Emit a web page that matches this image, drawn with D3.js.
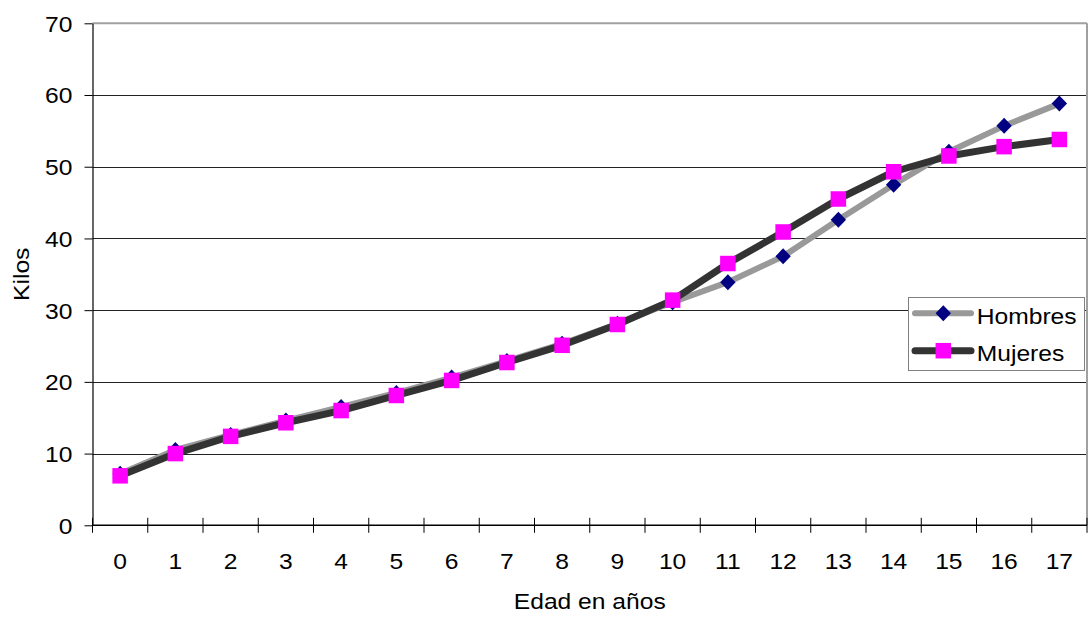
<!DOCTYPE html>
<html>
<head>
<meta charset="utf-8">
<script src="https://cdn.jsdelivr.net/npm/d3@7/dist/d3.min.js"></script>
<style>
  html, body { margin: 0; padding: 0; background: #fff; }
  svg { display: block; }
  text { font-family: "Liberation Sans", Arial, sans-serif; fill: #000; }
</style>
</head>
<body>
<svg id="chart" width="1088" height="617"></svg>
<script>
// ---- data ----
const ages = ["0","1","2","3","4","5","6","7","8","9","10","11","12","13","14","15","16","17"];
const hombres = [7.2, 10.5, 12.6, 14.6, 16.5, 18.45, 20.6, 22.9, 25.3, 28.1, 31.1, 33.9, 37.5, 42.6, 47.5, 52.1, 55.7, 58.8];
const mujeres = [6.9, 10.0, 12.4, 14.3, 16.0, 18.1, 20.2, 22.7, 25.1, 28.0, 31.4, 36.5, 40.9, 45.5, 49.3, 51.5, 52.8, 53.8];
const yTicks = [0, 10, 20, 30, 40, 50, 60, 70];
const seriesNames = ["Hombres", "Mujeres"];
const xTitle = "Edad en años";
const yTitle = "Kilos";

// ---- layout ----
const L = 92.5, R = 1087, T = 23.3, B = 525.3;
const FS = 22, SX = 1.12;

const svg = d3.select("#chart");
const x = d3.scaleBand().domain(ages).range([L, R]).padding(0);
const y = d3.scaleLinear().domain([0, 70]).range([B, T]);
const cx = d => x(d) + x.bandwidth() / 2;

// gridlines
svg.append("g").selectAll("line").data(yTicks.filter(v => v > 0 && v < 70)).join("line")
  .attr("x1", L).attr("x2", R).attr("y1", d => Math.round(y(d)) + 0.5).attr("y2", d => Math.round(y(d)) + 0.5)
  .attr("stroke", "#222").attr("stroke-width", 1);

// top / right border (gray)
svg.append("line").attr("x1", L).attr("x2", R).attr("y1", y(70)).attr("y2", y(70))
  .attr("stroke", "#a0a0a0").attr("stroke-width", 2);
svg.append("line").attr("x1", R).attr("x2", R).attr("y1", T).attr("y2", B)
  .attr("stroke", "#a0a0a0").attr("stroke-width", 2);

// y axis
const yAxis = svg.append("g").attr("transform", `translate(${L},0)`)
  .call(d3.axisLeft(y).tickValues(yTicks).tickSize(8).tickSizeOuter(0));
yAxis.select(".domain").attr("stroke", "#000").attr("stroke-width", 1.2);
yAxis.selectAll(".tick line").attr("stroke", "#000");
yAxis.selectAll("text")
  .attr("x", -20 / SX).attr("dy", "0.36em")
  .attr("transform", `scale(${SX},1)`)
  .style("font-size", FS + "px");

// x axis (labels only; boundary ticks drawn below)
const xAxis = svg.append("g").attr("transform", `translate(0,${B})`)
  .call(d3.axisBottom(x).tickSize(0).tickSizeOuter(0));
xAxis.select(".domain").remove();
xAxis.selectAll("text")
  .attr("y", 44).attr("dy", 0)
  .attr("transform", `scale(${SX},1)`)
  .style("font-size", FS + "px");
svg.append("line").attr("x1", L).attr("x2", R).attr("y1", B).attr("y2", B)
  .attr("stroke", "#000").attr("stroke-width", 1.5);
const bounds = ages.map(a => x(a)).concat([x.range()[1]]);
svg.append("g").selectAll("line").data(bounds).join("line")
  .attr("x1", d => d).attr("x2", d => d).attr("y1", B - 7.5).attr("y2", B + 7.5)
  .attr("stroke", "#000").attr("stroke-width", 1);

// axis titles
svg.append("text").attr("transform", `translate(${(L + R) / 2},609) scale(${SX},1)`)
  .attr("text-anchor", "middle").style("font-size", FS + "px").text(xTitle);
svg.append("text").attr("transform", `translate(29,${(T + B) / 2}) rotate(-90) scale(${SX},1)`)
  .attr("text-anchor", "middle").style("font-size", FS + "px").text(yTitle);

// lines
const line = d3.line().x((d, i) => cx(ages[i])).y(d => y(d));
const styles = [
  { data: hombres, color: "#999999", width: 6, marker: "diamond" },
  { data: mujeres, color: "#333333", width: 7, marker: "square" }
];
const diamond = (g, px, py) => g.append("path")
  .attr("d", `M${px},${py - 8}L${px + 7.7},${py}L${px},${py + 8}L${px - 7.7},${py}Z`)
  .attr("fill", "#000080");
const square = (g, px, py) => g.append("rect")
  .attr("x", px - 7.75).attr("y", py - 7.75).attr("width", 15.5).attr("height", 15.5)
  .attr("fill", "#ff00ff");

styles.forEach(s => {
  const g = svg.append("g");
  g.append("path").datum(s.data).attr("d", line).attr("fill", "none")
    .attr("stroke", s.color).attr("stroke-width", s.width).attr("stroke-linejoin", "round");
  s.data.forEach((v, i) => {
    if (s.marker === "diamond") diamond(g, cx(ages[i]), y(v));
    else square(g, cx(ages[i]), y(v));
  });
});

// legend
const lg = svg.append("g");
lg.append("rect").attr("x", 908.5).attr("y", 297.5).attr("width", 176).attr("height", 73)
  .attr("fill", "#fff").attr("stroke", "#808080").attr("stroke-width", 1);
const legendRows = [
  { name: seriesNames[0], s: styles[0], ly: 313.3, by: 324 },
  { name: seriesNames[1], s: styles[1], ly: 350.7, by: 361 }
];
legendRows.forEach(r => {
  lg.append("line").attr("x1", 915).attr("x2", 971).attr("y1", r.ly).attr("y2", r.ly)
    .attr("stroke", r.s.color).attr("stroke-width", r.s.width).attr("stroke-linecap", "round");
  if (r.s.marker === "diamond") diamond(lg, 943.3, r.ly); else square(lg, 943.3, r.ly);
  lg.append("text").attr("transform", `translate(976.7,${r.by}) scale(${SX},1)`)
    .style("font-size", FS + "px").text(r.name);
});
</script>
</body>
</html>
